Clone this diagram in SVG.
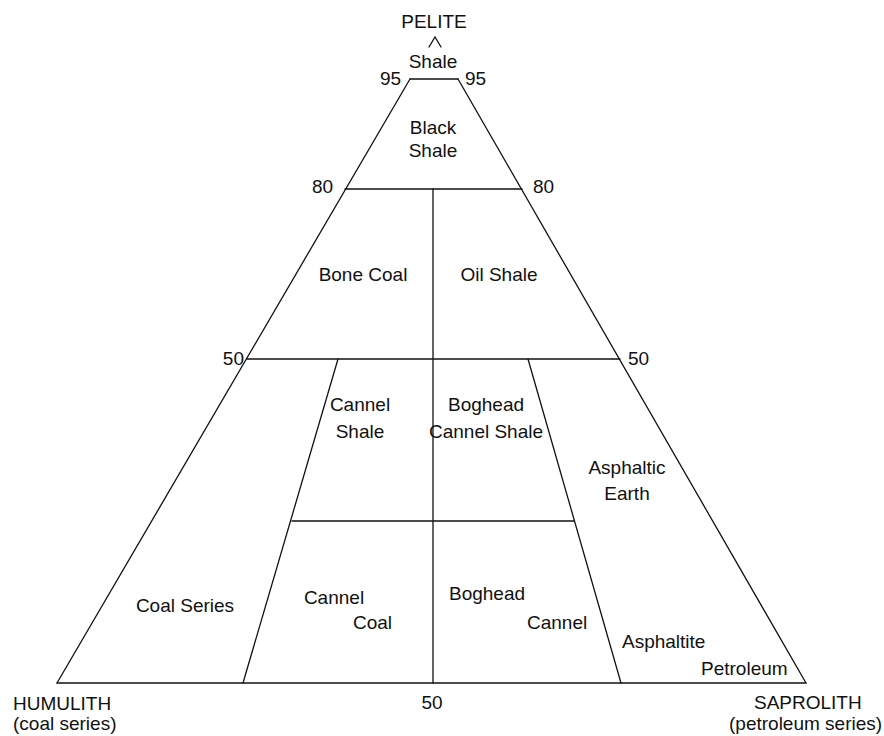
<svg xmlns="http://www.w3.org/2000/svg" width="884" height="736" viewBox="0 0 884 736">
<style>
.ln{stroke:#111;stroke-width:1.3;fill:none;stroke-linecap:round}
text{font-family:"Liberation Sans",Arial,sans-serif;font-size:19px;fill:#111}
.m{text-anchor:middle}
.e{text-anchor:end}
</style>
<rect width="884" height="736" fill="#fff"/>
<g id="connectors">
<line class="ln" x1="57" y1="683" x2="410" y2="79"/>
<line class="ln" x1="806" y1="683" x2="458" y2="79"/>
<line class="ln" x1="410" y1="79" x2="458" y2="79"/>
<line class="ln" x1="345" y1="189" x2="522" y2="189"/>
<line class="ln" x1="247" y1="359" x2="620" y2="359"/>
<line class="ln" x1="292" y1="521" x2="574" y2="521"/>
<line class="ln" x1="57" y1="683" x2="806" y2="683"/>
<line class="ln" x1="433" y1="189" x2="433" y2="683"/>
<line class="ln" x1="338" y1="359" x2="243" y2="683"/>
<line class="ln" x1="528" y1="359" x2="621" y2="683"/>
<polyline class="ln" points="429,47 435,37 441,47"/>
</g>
<g id="pelite"><text class="m" x="434" y="28">PELITE</text></g>
<g id="shale-top"><text class="m" x="433" y="68">Shale</text></g>
<g id="ticks">
<text x="380" y="85">95</text><text x="465" y="85">95</text>
<text x="312" y="193">80</text><text x="533" y="193">80</text>
<text class="e" x="244" y="365">50</text><text x="628" y="365">50</text>
<text class="m" x="432" y="709">50</text>
</g>
<g id="black-shale"><text class="m" x="433" y="134">Black</text><text class="m" x="433" y="157">Shale</text></g>
<g id="bone-coal"><text class="m" x="363" y="281">Bone Coal</text></g>
<g id="oil-shale"><text class="m" x="499" y="281">Oil Shale</text></g>
<g id="cannel-shale"><text class="m" x="360" y="411">Cannel</text><text class="m" x="360" y="438">Shale</text></g>
<g id="boghead-cannel-shale"><text class="m" x="486" y="411">Boghead</text><text class="m" x="486" y="438">Cannel Shale</text></g>
<g id="asphaltic-earth"><text class="m" x="627" y="474">Asphaltic</text><text class="m" x="627" y="500">Earth</text></g>
<g id="coal-series"><text class="m" x="185" y="612">Coal Series</text></g>
<g id="cannel-coal"><text class="m" x="334" y="604">Cannel</text><text x="353" y="629">Coal</text></g>
<g id="boghead-cannel"><text x="449" y="600">Boghead</text><text x="527" y="629">Cannel</text></g>
<g id="asphaltite"><text x="622" y="648">Asphaltite</text></g>
<g id="petroleum"><text x="701" y="675">Petroleum</text></g>
<g id="humulith"><text x="13" y="710">HUMULITH</text><text x="13" y="730">(coal series)</text></g>
<g id="saprolith"><text x="754" y="709">SAPROLITH</text><text x="729" y="730">(petroleum series)</text></g>
</svg>
